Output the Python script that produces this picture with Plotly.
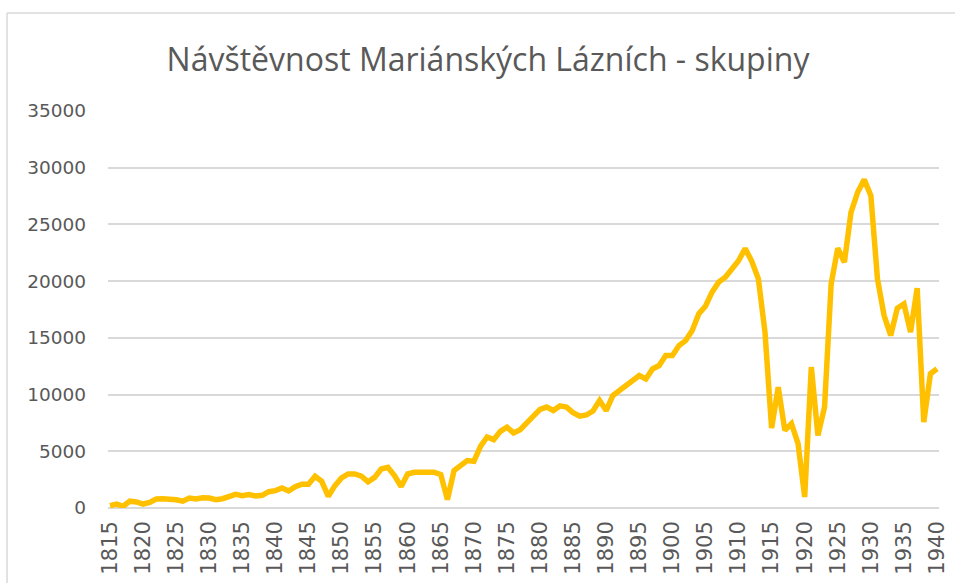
import plotly.graph_objects as go

years = list(range(1815, 1941))
visitors = [
    200, 350, 150, 600, 530, 350, 500, 800, 820, 820,          # 1815-1824
    730, 600, 880, 800, 910, 880, 730, 820, 1060, 1200,        # 1825-1834
    1090, 1180, 1060, 1120, 1440, 1530, 1760, 1500, 1880, 2100,  # 1835-1844
    2100, 2800, 2350, 1030, 1970, 2650, 3000, 3000, 2800, 2300,  # 1845-1854
    2700, 3440, 3590, 2850, 1900, 3000, 3150, 3150, 3150, 3150,  # 1855-1864
    2940, 740, 3300, 3740, 4180, 4120, 5440, 6260, 6030, 6760,   # 1865-1874
    7120, 6620, 6910, 7500, 8090, 8700, 8900, 8600, 9000, 8900,  # 1875-1884
    8400, 8100, 8200, 8550, 9470, 8590, 9910, 10350, 10790, 11150,  # 1885-1894
    11680, 11380, 12260, 12560, 13440, 13440, 14320, 14760, 15650, 17120,  # 1895-1904
    17790, 19030, 19910, 20350, 21090, 21800, 22880, 21750, 20200, 15500,  # 1905-1914
    7050, 10660, 6840, 7430, 5670, 970, 12420, 6400, 8900, 19760,  # 1915-1924
    22900, 21670, 26070, 27830, 28950, 27540, 20200, 16970, 15210, 17620,  # 1925-1934
    18000, 15500, 19380, 7570, 11830, 12270,  # 1935-1940
]
tick_years = list(range(1815, 1941, 5))
y_ticks = list(range(0, 35001, 5000))

title_text = "Návštěvnost Mariánských Lázních - skupiny"

fig = go.Figure()
fig.add_trace(go.Scatter(
    x=years, y=visitors, mode="lines",
    line=dict(color="#FFC000", width=5.5, shape="linear"),
    hoverinfo="x+y", showlegend=False,
))

fig.update_layout(
    width=955, height=583,
    margin=dict(l=108, r=16, t=111, b=75, autoexpand=False),
    paper_bgcolor="white", plot_bgcolor="white",
    title=dict(text=title_text, x=0.511, xanchor="center", y=0.897, yanchor="middle",
               font=dict(family="Open Sans", size=32, color="#595959")),
    xaxis=dict(
        range=[1814.7, 1940.3], tickmode="array", tickvals=tick_years,
        ticktext=[str(t) for t in tick_years], tickangle=-90,
        showgrid=False, zeroline=False, showline=False, automargin=False,
        tickfont=dict(family="DejaVu Sans", size=21, color="#595959"),
        ticks="", ticklabelstandoff=8,
    ),
    yaxis=dict(
        range=[0, 35000], tickmode="array", tickvals=y_ticks,
        ticktext=[str(t) for t in y_ticks], automargin=False,
        showgrid=True, gridcolor="#D9D9D9", gridwidth=1.5,
        zeroline=True, zerolinecolor="#D9D9D9", zerolinewidth=1.5,
        showline=False, ticks="", ticklabelstandoff=21,
        tickfont=dict(family="DejaVu Sans", size=18.5, color="#595959"),
    ),
    shapes=[
        dict(type="line", xref="paper", yref="paper",
             x0=(7 - 108) / 831, x1=(7 - 108) / 831,
             y0=-(600 - 508) / 397, y1=(508 - 13) / 397,
             line=dict(color="#D9D9D9", width=1.5), layer="below"),
        dict(type="line", xref="paper", yref="paper",
             x0=(7 - 108) / 831, x1=(970 - 108) / 831,
             y0=(508 - 13) / 397, y1=(508 - 13) / 397,
             line=dict(color="#D9D9D9", width=1.5), layer="below"),
    ],
)

fig.write_html(
    "out.html",
    config={"displayModeBar": False},
    post_script="document.body.style.margin='0';document.body.style.overflow='hidden';",
)
